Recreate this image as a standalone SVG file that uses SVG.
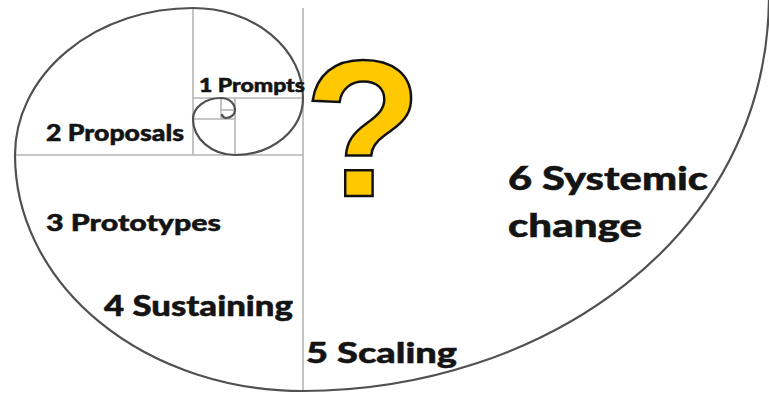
<svg xmlns="http://www.w3.org/2000/svg" width="769" height="397" viewBox="0 0 769 397">
<style>
.grid{stroke:#b4b4b4;stroke-width:1.6;fill:none}
.spiral{stroke:#505050;stroke-width:2.2;fill:none}
.lbl{font-family:Lato,"Open Sans","Liberation Sans",sans-serif;font-weight:900;fill:#141414;stroke:#141414;stroke-width:0.5}
.q{font-family:"Liberation Sans",Arial,sans-serif;font-weight:700;fill:#FFC800;stroke:#111;stroke-width:2.5;stroke-linejoin:miter}
</style>
<rect width="769" height="397" fill="#fff"/>
<g id="grid" class="grid">
<line x1="303" y1="8" x2="303" y2="391"/>
<line x1="193" y1="9" x2="193" y2="155"/>
<line x1="15" y1="155" x2="303" y2="155"/>
<line x1="193" y1="98" x2="303" y2="98"/>
<line x1="235" y1="98" x2="235" y2="155"/>
<line x1="193" y1="119" x2="235" y2="119"/>
<line x1="221" y1="98" x2="221" y2="119"/>
<line x1="221" y1="110" x2="235" y2="110"/>
</g>
<g id="spiral" class="spiral">
<path d="M 769 -5 C 769 240 540 391 303 391 A 288 236 0 0 1 15 155 A 178 147 0 0 1 193 8 A 110 90 0 0 1 303 98 A 68 57 0 0 1 235 155 A 42 36 0 0 1 193 119 A 28 21 0 0 1 221 98 A 14 12 0 0 1 235 110 A 9 8 0 0 1 226 118 A 5 4 0 0 1 222 114"/>
</g>
<g id="question">
<text class="q" x="363" y="196" font-size="194" text-anchor="middle">?</text>
</g>
<g id="n1"><text class="lbl" x="199" y="92" font-size="18" textLength="106" lengthAdjust="spacingAndGlyphs">1 Prompts</text></g>
<g id="n2"><text class="lbl" x="46" y="141" font-size="22.5" textLength="138" lengthAdjust="spacingAndGlyphs">2 Proposals</text></g>
<g id="n3"><text class="lbl" x="46" y="231" font-size="23.5" textLength="175" lengthAdjust="spacingAndGlyphs">3 Prototypes</text></g>
<g id="n4"><text class="lbl" x="104" y="316" font-size="29" textLength="189" lengthAdjust="spacingAndGlyphs">4 Sustaining</text></g>
<g id="n5"><text class="lbl" x="306" y="363" font-size="29" textLength="151" lengthAdjust="spacingAndGlyphs">5 Scaling</text></g>
<g id="n6"><text class="lbl" x="508" y="190" font-size="32.5" textLength="200" lengthAdjust="spacingAndGlyphs">6 Systemic</text><text class="lbl" x="508" y="237" font-size="32.5" textLength="134" lengthAdjust="spacingAndGlyphs">change</text></g>
</svg>
